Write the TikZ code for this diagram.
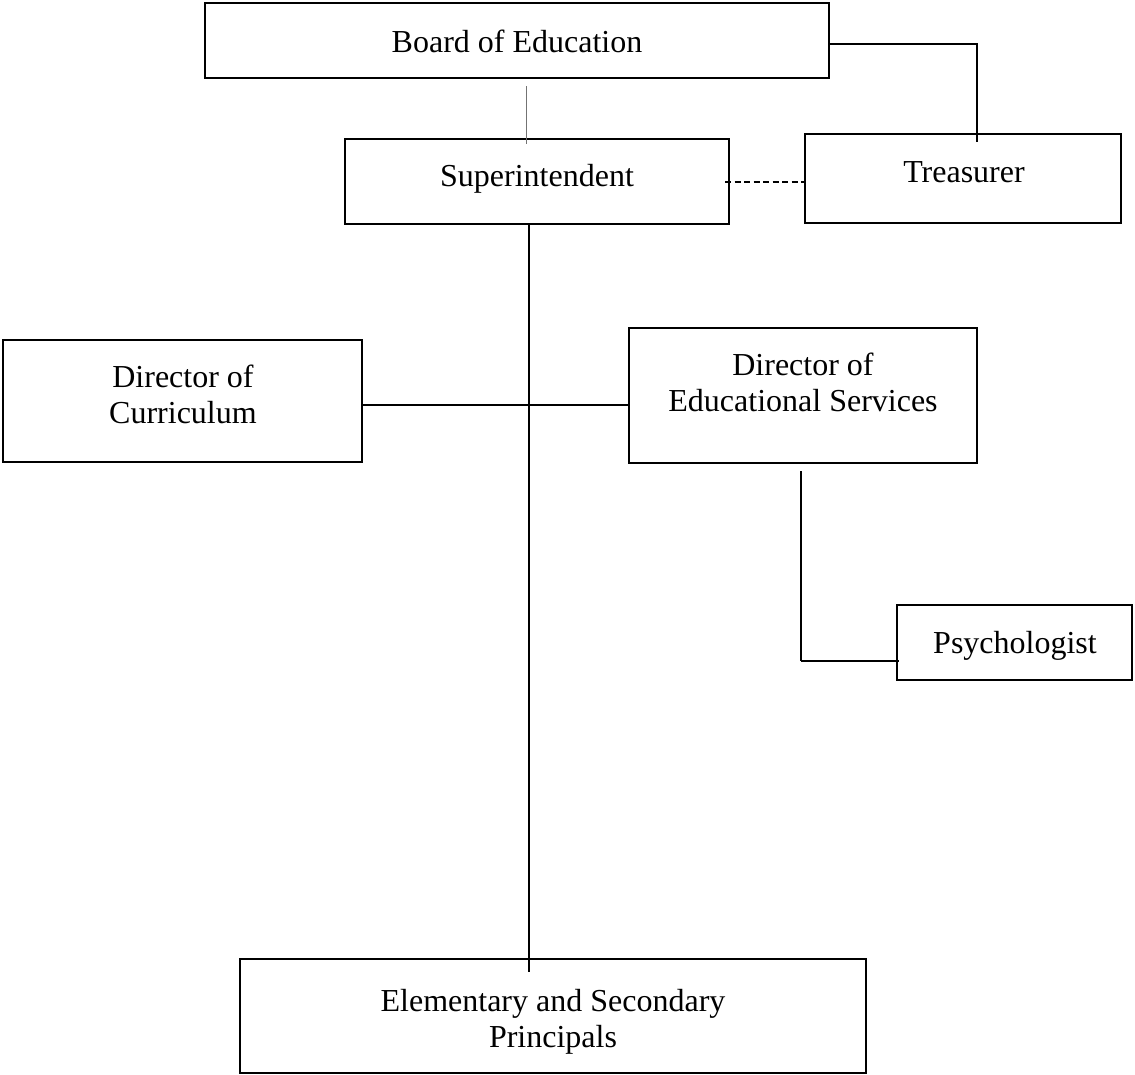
\documentclass[tikz,border=0pt]{standalone}
\usepackage{fontspec}
\setmainfont{Liberation Serif}
\newcommand{\twoline}[2]{\begin{tabular}[t]{@{}c@{}}#1\\#2\end{tabular}}
\begin{document}
\begin{tikzpicture}[x=1pt,y=-1pt,
  box/.style={draw=black, line width=2pt, rectangle, inner sep=0pt, outer sep=0pt, fill=white},
  txt/.style={inner sep=0pt, outer sep=0pt, anchor=base, font=\fontsize{32}{36}\selectfont},
  conn/.style={draw=black, line width=2pt},
  thinl/.style={draw=black!55, line width=1pt},
  thinb/.style={draw=black, line width=1.1pt},
  dashline/.style={draw=black, line width=2pt, dash pattern=on 6pt off 3.5pt}]
\useasboundingbox (0,0) rectangle (1135,1074);
\fill[white] (0,0) rectangle (1135,1074);

% boxes
\node[box, minimum width=624pt, minimum height=75pt]  (board) at (517,40.5) {};
\node[box, minimum width=384pt, minimum height=85pt]  (sup)   at (537,181.5) {};
\node[box, minimum width=316pt, minimum height=89pt]  (tre)   at (963,178.5) {};
\node[box, minimum width=359pt, minimum height=122pt] (cur)   at (182.5,401) {};
\node[box, minimum width=348pt, minimum height=135pt] (eds)   at (803,395.5) {};
\node[box, minimum width=235pt, minimum height=75pt]  (psy)   at (1014.5,642.5) {};
\node[box, minimum width=626pt, minimum height=114pt] (ele)   at (553,1016) {};

% texts
\node[txt] (boardT) at (517,52) {Board of Education};
\node[txt] (supT)   at (537,186) {Superintendent};
\node[txt] (treT)   at (964,182) {Treasurer};
\node[txt] (curT)   at (183,387) {\twoline{Director of}{Curriculum}};
\node[txt] (edsT)   at (803,375) {\twoline{Director of}{Educational Services}};
\node[txt] (psyT)   at (1015,653) {Psychologist};
\node[txt] (eleT)   at (553,1011) {\twoline{Elementary and Secondary}{Principals}};

% connectors
\coordinate (j1) at (526,86);
\coordinate (j2) at (526,144);
\draw[thinl] (j1) -- (j2);

\coordinate (tr) at (977,44);
\coordinate (tr2) at (977,142);
\draw[conn] (board.east |- tr) -- (tr) -- (tr2);

\draw[dashline] ([xshift=-4pt]sup.east) -- (tre.west |- sup.east);

\coordinate (v2) at (529,972);
\draw[conn] (sup.south -| v2) -- (v2);

\coordinate (h) at (529,405);
\draw[conn] (cur.east |- h) -- (eds.west |- h);

\coordinate (p1) at (801,471);
\coordinate (p2) at (801,661);
\draw[thinb] (p1) -- (p2);
\draw[conn] (p2) -- ([xshift=2pt]psy.west |- p2);
\end{tikzpicture}
\end{document}
